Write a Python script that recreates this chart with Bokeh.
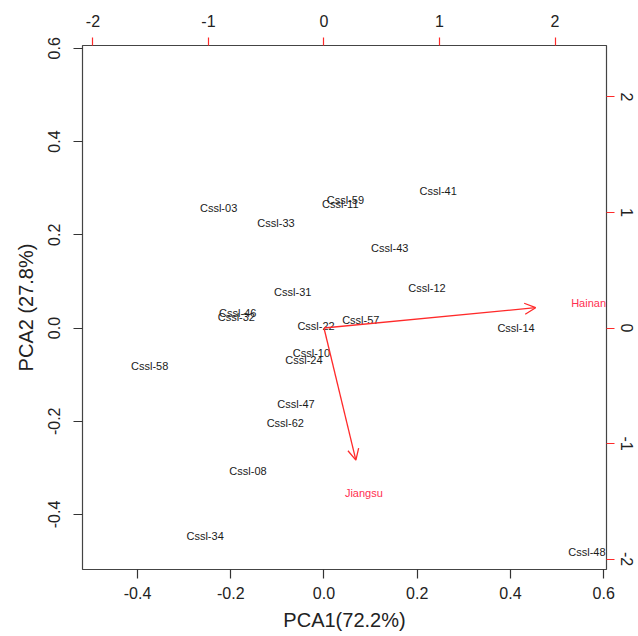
from bokeh.plotting import figure
from bokeh.models import Range1d, LinearAxis, FixedTicker, Arrow, OpenHead, ColumnDataSource, PrintfTickFormatter
from bokeh.embed import file_html
from bokeh.resources import INLINE
from bokeh.core.properties import value

# ---- data ----
names = ["Cssl-03", "Cssl-59", "Cssl-11", "Cssl-41", "Cssl-33", "Cssl-43", "Cssl-31",
         "Cssl-12", "Cssl-46", "Cssl-32", "Cssl-22", "Cssl-57", "Cssl-14", "Cssl-10",
         "Cssl-24", "Cssl-58", "Cssl-47", "Cssl-62", "Cssl-08", "Cssl-34", "Cssl-48"]
pc1 = [-0.226, 0.046, 0.035, 0.245, -0.103, 0.141, -0.067,
       0.221, -0.185, -0.188, -0.017, 0.079, 0.412, -0.027,
       -0.043, -0.374, -0.060, -0.083, -0.163, -0.255, 0.564]
pc2 = [0.258, 0.274, 0.266, 0.294, 0.226, 0.171, 0.078,
       0.086, 0.032, 0.023, 0.005, 0.018, 0.001, -0.054,
       -0.069, -0.082, -0.164, -0.203, -0.307, -0.447, -0.480]

var_names = ["Hainan", "Jiangsu"]
var_pc1 = [2.29, 0.345]
var_pc2 = [0.22, -1.43]
arrow_len = 0.8          # R biplot draws arrows to 0.8 of the loading
ratio = 4.035            # scale between primary and secondary axes

lims = (-0.518, 0.606)
x_ticks = [-0.4, -0.2, 0.0, 0.2, 0.4, 0.6]
y_ticks = [-0.4, -0.2, 0.0, 0.2, 0.4, 0.6]
sec_ticks = [-2, -1, 0, 1, 2]

x_title = "PCA1(72.2%)"
y_title = "PCA2 (27.8%)"

FONT = "Liberation Sans"
RED = "#ff2a2a"

p = figure(width=638, height=636,
           x_range=Range1d(*lims), y_range=Range1d(*lims),
           output_backend="svg", toolbar_location=None,
           min_border_left=82, min_border_top=45, min_border_right=32, min_border_bottom=67)
p.extra_x_ranges = {"x2": Range1d(lims[0] * ratio, lims[1] * ratio)}
p.extra_y_ranges = {"y2": Range1d(lims[0] * ratio, lims[1] * ratio)}

bottom = p.xaxis[0]
left = p.yaxis[0]

p.grid.visible = False
p.outline_line_color = "#444444"
p.outline_line_width = 1.2
p.background_fill_color = "white"
p.border_fill_color = "white"

top = LinearAxis(x_range_name="x2")
right = LinearAxis(y_range_name="y2")
p.add_layout(top, "above")
p.add_layout(right, "right")

for ax in [bottom, left, top, right]:
    ax.axis_line_color = None
    ax.minor_tick_line_color = None
    ax.major_tick_in = 0
    ax.major_tick_out = 9
    ax.major_tick_line_width = 1.2
    ax.major_label_text_font = FONT
    ax.major_label_text_font_size = "16px"
    ax.major_label_text_color = "#222222"
    ax.axis_label_text_font = FONT
    ax.axis_label_text_font_size = "20px"
    ax.axis_label_text_font_style = "normal"
    ax.axis_label_text_color = "#222222"

bottom.ticker = FixedTicker(ticks=x_ticks)
left.ticker = FixedTicker(ticks=y_ticks)
bottom.formatter = PrintfTickFormatter(format="%.1f")
left.formatter = PrintfTickFormatter(format="%.1f")
bottom.major_tick_line_color = "#333333"
left.major_tick_line_color = "#333333"
bottom.major_label_standoff = 8
bottom.axis_label = x_title
bottom.axis_label_standoff = 7
left.major_label_orientation = "vertical"
left.major_label_standoff = 13
left.axis_label = y_title
left.axis_label_standoff = 9

top.ticker = FixedTicker(ticks=sec_ticks)
right.ticker = FixedTicker(ticks=sec_ticks)
top.formatter = PrintfTickFormatter(format="%d")
right.formatter = PrintfTickFormatter(format="%d")
top.major_tick_line_color = RED
right.major_tick_line_color = RED
top.major_tick_out = 8
right.major_tick_out = 8
top.major_label_standoff = 11
right.major_label_orientation = "vertical"
right.major_label_standoff = 6

# observations
src = ColumnDataSource(dict(x=pc1, y=pc2, name=names))
p.text(x="x", y="y", text="name", source=src,
       text_font=value(FONT), text_font_size="11px",
       text_align="center", text_baseline="middle", text_color="#1a1a1a")

# variable arrows (secondary axes)
asrc = ColumnDataSource(dict(
    xe=[arrow_len * v for v in var_pc1],
    ye=[arrow_len * v for v in var_pc2],
    xs=[0.0 for _ in var_pc1],
    ys=[0.0 for _ in var_pc2],
))
p.add_layout(Arrow(end=OpenHead(size=11, line_color=RED, line_width=1.3),
                   x_start="xs", y_start="ys", x_end="xe", y_end="ye",
                   source=asrc, line_color=RED, line_width=1.3,
                   x_range_name="x2", y_range_name="y2"))

vsrc = ColumnDataSource(dict(x=var_pc1, y=var_pc2, name=var_names))
p.text(x="x", y="y", text="name", source=vsrc,
       x_range_name="x2", y_range_name="y2",
       text_font=value(FONT), text_font_size="11px",
       text_align="center", text_baseline="middle", text_color="#ff3050")

open("out.html", "w").write(file_html(p, INLINE))
